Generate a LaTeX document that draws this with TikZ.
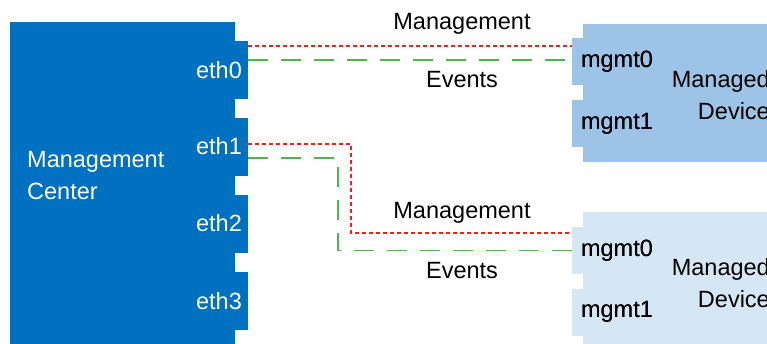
\documentclass[tikz,border=0pt]{standalone}
\usepackage{fontspec}
\setmainfont{Liberation Sans}
\definecolor{mcblue}{HTML}{0070C0}
\definecolor{devA}{HTML}{9DC3E6}
\definecolor{devB}{HTML}{D5E6F4}
\definecolor{mred}{HTML}{FF1A1A}
\definecolor{egreen}{HTML}{4CB848}
\tikzset{
  txt/.style={font=\fontsize{23.5}{32}\selectfont, inner sep=0pt},
  mcbox/.style={fill=mcblue, draw=none, inner sep=0pt},
  port/.style={fill=mcblue, draw=none, inner sep=0pt, text=white, font=\fontsize{23.5}{32}\selectfont, minimum width=58pt, minimum height=58pt},
  dport/.style={draw=none, inner sep=0pt, text=black, font=\fontsize{23.5}{32}\selectfont, minimum width=90pt, minimum height=47pt},
  mgmtline/.style={draw=mred, line width=1.5pt, dash pattern=on 4pt off 3pt},
  evline/.style={draw=egreen, line width=1.5pt, dash pattern=on 20pt off 13pt},
}
\begin{document}
\begin{tikzpicture}[x=1pt,y=-1pt]
\useasboundingbox (0,0) rectangle (767,343);
% Management Center body
\node[mcbox, minimum width=225pt, minimum height=330pt, anchor=north west] (mc) at (10,22) {};
\node[txt, text=white, align=left, anchor=north west] (mclabel) at (27,151) {Management\\Center};
% MC ports
\node[port] (eth0) at (219,70) {eth0};
\node[port] (eth1) at (219,146.5) {eth1};
\node[port] (eth2) at (219,223.5) {eth2};
\node[port] (eth3) at (219,301) {eth3};
% Device 1
\node[fill=devA, inner sep=0pt, minimum width=200pt, minimum height=138pt, anchor=north west] (dev1) at (583,24) {};
\node[dport, fill=devA] (d1m0) at (617,61.5) {mgmt0};
\node[dport, fill=devA] (d1m1) at (617,123.5) {mgmt1};
\node[txt, align=right, anchor=north east] (dev1label) at (770,70) {Managed\\Device};
% Device 2
\node[fill=devB, inner sep=0pt, minimum width=200pt, minimum height=140pt, anchor=north west] (dev2) at (583,212) {};
\node[dport, fill=devB] (d2m0) at (617,250.5) {mgmt0};
\node[dport, fill=devB] (d2m1) at (617,312) {mgmt1};
\node[txt, align=right, anchor=north east] (dev2label) at (770,258) {Managed\\Device};
% redraw port labels on top of device bodies
\node[txt] at (d1m0) {mgmt0};
\node[txt] at (d1m1) {mgmt1};
\node[txt] at (d2m0) {mgmt0};
\node[txt] at (d2m1) {mgmt1};
% connections
\draw[mgmtline] ([yshift=24pt]eth0.east) -- ([yshift=24pt]eth0.east -| d1m0.west);
\draw[evline] ([yshift=10pt]eth0.east) -- ([yshift=10pt]eth0.east -| d1m0.west);
\draw[mgmtline] ([yshift=2.5pt]eth1.east) -| ([xshift=-221pt,yshift=17.5pt]d2m0.west) -- ([yshift=17.5pt]d2m0.west);
\draw[evline] ([yshift=-11.5pt]eth1.east) -| ([xshift=-234pt]d2m0.west) -- (d2m0.west);
% labels
\node[txt] (lm1) at (462,24) {Management};
\node[txt] (le1) at (462,80) {Events};
\node[txt] (lm2) at (462,213) {Management};
\node[txt] (le2) at (462,271) {Events};
\end{tikzpicture}
\end{document}
